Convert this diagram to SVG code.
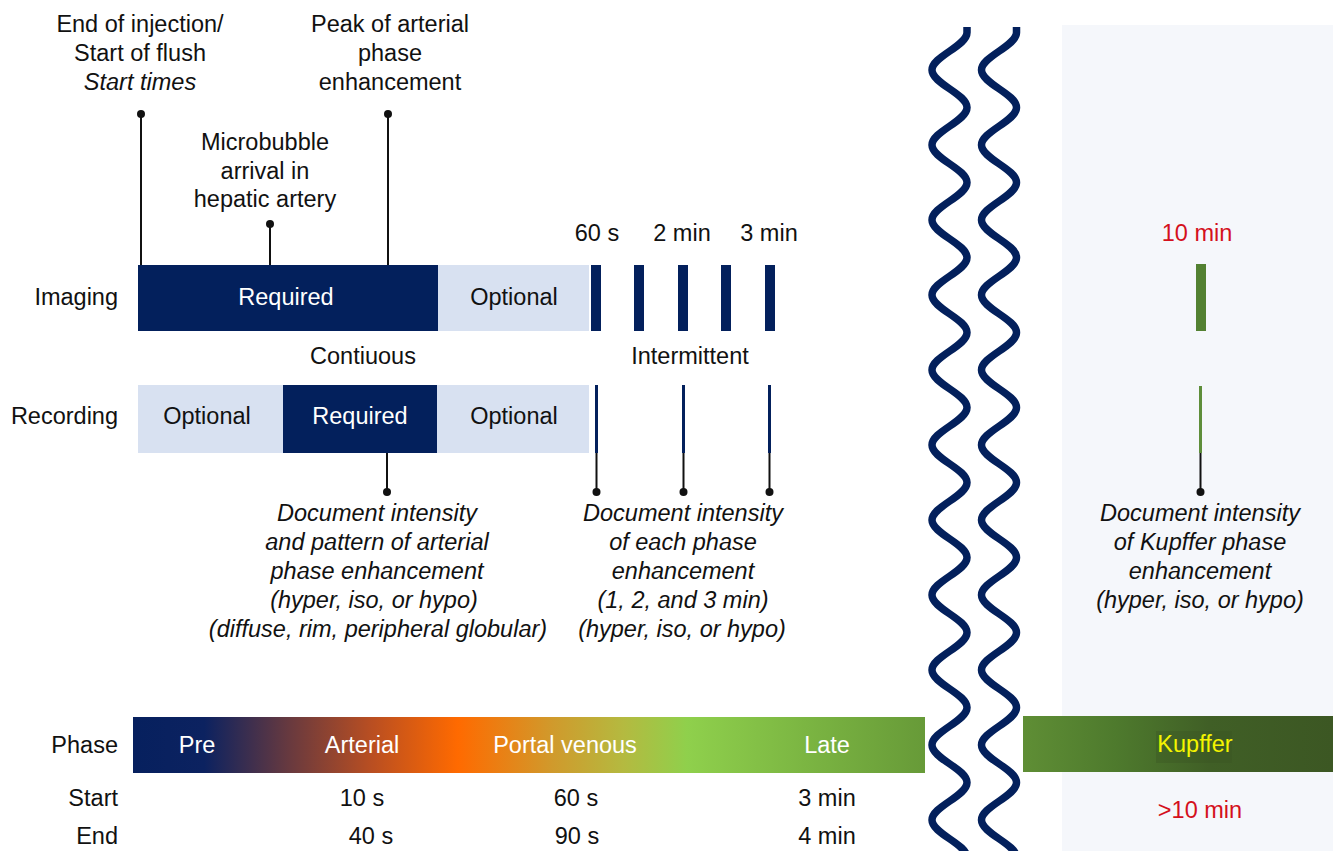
<svg xmlns="http://www.w3.org/2000/svg" xmlns:xlink="http://www.w3.org/1999/xlink" width="1333" height="851" viewBox="0 0 1333 851">
<style>
text{font-family:"Liberation Sans",Arial,Helvetica,sans-serif;font-size:23.5px;fill:#111;}
.c{text-anchor:middle;}
.r{text-anchor:end;}
.i{font-style:italic;}
.w{fill:#fff;}
.red{fill:#d4101c;}
.y{fill:#f4f400;}
.navy{fill:#03205c;}
.light{fill:#d8e1f1;}
.pin{stroke:#111;stroke-width:2;fill:none;}
.dot{fill:#111;}
.wave{fill:none;stroke:#03205c;stroke-width:7.5;}
</style>
<defs>
<linearGradient id="phaseGrad" x1="0" y1="0" x2="1" y2="0">
<stop offset="0" stop-color="#06205e"/>
<stop offset="0.09" stop-color="#0c2260"/>
<stop offset="0.2" stop-color="#6a3a3e"/>
<stop offset="0.3" stop-color="#b84e22"/>
<stop offset="0.41" stop-color="#ff6a00"/>
<stop offset="0.53" stop-color="#d09a2c"/>
<stop offset="0.62" stop-color="#b4ba40"/>
<stop offset="0.7" stop-color="#8fd04c"/>
<stop offset="1" stop-color="#679a38"/>
</linearGradient>
<linearGradient id="kupGrad" x1="0" y1="0" x2="1" y2="0">
<stop offset="0" stop-color="#5f8e35"/>
<stop offset="0.3" stop-color="#4e7a2d"/>
<stop offset="0.6" stop-color="#405f26"/>
<stop offset="1" stop-color="#3c5723"/>
</linearGradient>
<path id="wavePath" d="M967 27 L967 32.5 c0 13.6 -35 23.9 -35 37.5 s35 23.9 35 37.5 s-35 23.9 -35 37.5 s35 23.9 35 37.5 s-35 23.9 -35 37.5 s35 23.9 35 37.5 s-35 23.9 -35 37.5 s35 23.9 35 37.5 s-35 23.9 -35 37.5 s35 23.9 35 37.5 s-35 23.9 -35 37.5 s35 23.9 35 37.5 s-35 23.9 -35 37.5 s35 23.9 35 37.5 s-35 23.9 -35 37.5 s35 23.9 35 37.5 s-35 23.9 -35 37.5 s35 23.9 35 37.5 s-35 23.9 -35 37.5 s35 23.9 35 37.5 s-35 23.9 -35 37.5 s35 23.9 35 37.5 s-35 23.9 -35 37.5"/>
</defs>
<rect width="1333" height="851" fill="#fff"/>
<rect id="kupffer-panel" x="1062" y="25" width="271" height="826" fill="#f5f7fb"/>

<g id="top-labels">
<text class="c" x="140" y="32">End of injection/</text>
<text class="c" x="140" y="61">Start of flush</text>
<text class="c i" x="140" y="90">Start times</text>
<text class="c" x="390" y="32">Peak of arterial</text>
<text class="c" x="390" y="61">phase</text>
<text class="c" x="390" y="90">enhancement</text>
<text class="c" x="265" y="150">Microbubble</text>
<text class="c" x="265" y="179">arrival in</text>
<text class="c" x="265" y="207">hepatic artery</text>
<text class="c" x="597" y="241">60 s</text>
<text class="c" x="682" y="241">2 min</text>
<text class="c" x="769" y="241">3 min</text>
<text class="c red" x="1197" y="241">10 min</text>
</g>

<g id="imaging-row">
<text class="r" x="118" y="305">Imaging</text>
<rect class="navy" x="138" y="265" width="300" height="66"/>
<text class="c w" x="286" y="305">Required</text>
<rect class="light" x="438" y="265" width="151" height="66"/>
<text class="c" x="514" y="305">Optional</text>
<rect class="navy" x="591" y="265" width="10" height="66"/>
<rect class="navy" x="634" y="265" width="10" height="66"/>
<rect class="navy" x="678" y="265" width="10" height="66"/>
<rect class="navy" x="721" y="265" width="10" height="66"/>
<rect class="navy" x="765" y="265" width="10" height="66"/>
<rect x="1196" y="264" width="10" height="67" fill="#538132"/>
</g>

<g id="mode-labels">
<text class="c" x="363" y="364">Contiuous</text>
<text class="c" x="690" y="364">Intermittent</text>
</g>

<g id="recording-row">
<text class="r" x="118" y="424">Recording</text>
<rect class="light" x="138" y="385" width="451" height="68"/>
<rect class="navy" x="283" y="385" width="154" height="68"/>
<text class="c" x="207" y="424">Optional</text>
<text class="c w" x="360" y="424">Required</text>
<text class="c" x="514" y="424">Optional</text>
<rect class="navy" x="595" y="385" width="3" height="68"/>
<rect class="navy" x="682" y="385" width="3" height="68"/>
<rect class="navy" x="768" y="385" width="3" height="68"/>
<rect x="1199" y="386" width="3" height="67" fill="#5e8e3a"/>
</g>

<g id="connectors">
<line class="pin" x1="141" y1="114" x2="141" y2="265"/>
<circle class="dot" cx="141" cy="114" r="4"/>
<line class="pin" x1="270" y1="224" x2="270" y2="265"/>
<circle class="dot" cx="270" cy="224" r="4"/>
<line class="pin" x1="388" y1="114" x2="388" y2="265"/>
<circle class="dot" cx="388" cy="114" r="4"/>
<line class="pin" x1="387" y1="453" x2="387" y2="492"/>
<circle class="dot" cx="387" cy="492" r="4"/>
<line class="pin" x1="596.5" y1="453" x2="596.5" y2="492"/>
<circle class="dot" cx="596.5" cy="492" r="4"/>
<line class="pin" x1="683.5" y1="453" x2="683.5" y2="492"/>
<circle class="dot" cx="683.5" cy="492" r="4"/>
<line class="pin" x1="769.5" y1="453" x2="769.5" y2="492"/>
<circle class="dot" cx="769.5" cy="492" r="4"/>
<line class="pin" x1="1200.5" y1="453" x2="1200.5" y2="492"/>
<circle class="dot" cx="1200.5" cy="492" r="4"/>
</g>

<g id="note-arterial">
<text class="c i" x="377" y="521">Document intensity</text>
<text class="c i" x="377" y="550">and pattern of arterial</text>
<text class="c i" x="377" y="579">phase enhancement</text>
<text class="c i" x="374" y="608">(hyper, iso, or hypo)</text>
<text class="c i" x="378" y="637">(diffuse, rim, peripheral globular)</text>
</g>

<g id="note-phases">
<text class="c i" x="683" y="521">Document intensity</text>
<text class="c i" x="683" y="550">of each phase</text>
<text class="c i" x="683" y="579">enhancement</text>
<text class="c i" x="683" y="608">(1, 2, and 3 min)</text>
<text class="c i" x="682" y="637">(hyper, iso, or hypo)</text>
</g>

<g id="note-kupffer">
<text class="c i" x="1200" y="521">Document intensity</text>
<text class="c i" x="1200" y="550">of Kupffer phase</text>
<text class="c i" x="1200" y="579">enhancement</text>
<text class="c i" x="1200" y="608">(hyper, iso, or hypo)</text>
</g>

<g id="phase-bar">
<text class="r" x="118" y="753">Phase</text>
<rect x="133" y="717" width="792" height="56" fill="url(#phaseGrad)"/>
<text class="c w" x="197" y="753">Pre</text>
<text class="c w" x="362" y="753">Arterial</text>
<text class="c w" x="565" y="753">Portal venous</text>
<text class="c w" x="827" y="753">Late</text>
</g>

<g id="kupffer-bar">
<rect x="1023" y="716" width="310" height="56" fill="url(#kupGrad)"/>
<rect x="1156" y="731" width="76" height="32" fill="#3a5421" opacity="0.35"/>
<text class="c y" x="1195" y="752">Kupffer</text>
</g>

<g id="times">
<text class="r" x="118" y="806">Start</text>
<text class="c" x="362" y="806">10 s</text>
<text class="c" x="576" y="806">60 s</text>
<text class="c" x="827" y="806">3 min</text>
<text class="c red" x="1200" y="818">&gt;10 min</text>
<text class="r" x="118" y="844">End</text>
<text class="c" x="371" y="844">40 s</text>
<text class="c" x="577" y="844">90 s</text>
<text class="c" x="827" y="844">4 min</text>
</g>

<g id="break-waves">
<use xlink:href="#wavePath" class="wave"/>
<use xlink:href="#wavePath" class="wave" transform="translate(49.5 0)"/>
</g>
</svg>
